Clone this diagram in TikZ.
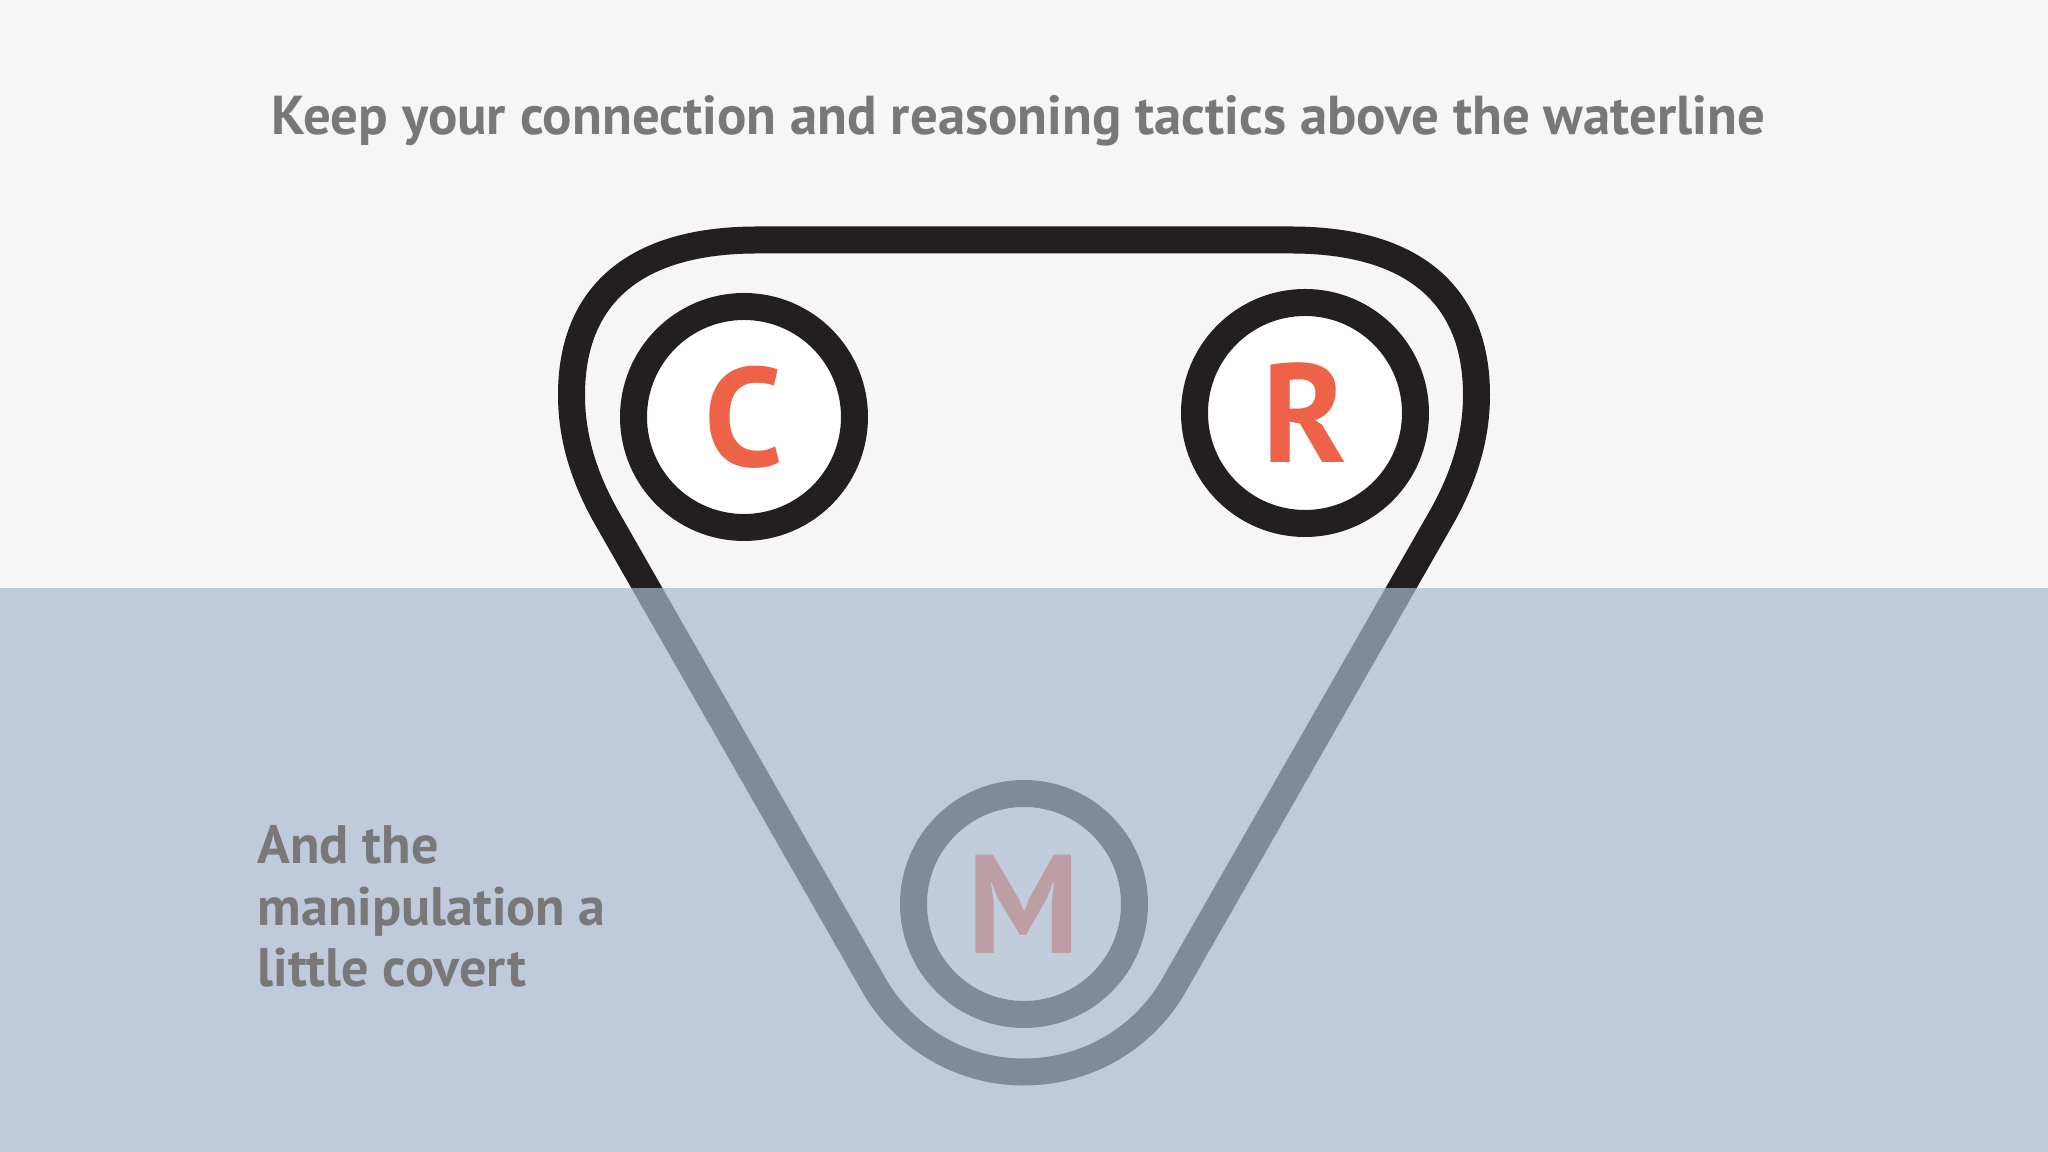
\documentclass[tikz,border=0pt]{standalone}
\usepackage{fontspec}
\setmainfont{PT Sans}
\usepackage{xcolor}
\usepackage{tikz}
\usetikzlibrary{calc}
\definecolor{ink}{HTML}{231F20}
\definecolor{letterred}{HTML}{EE6347}
\definecolor{sky}{HTML}{F6F6F7}
\definecolor{water}{RGB}{169,184,206}
\definecolor{textgray}{HTML}{787878}

\begin{document}
\begin{tikzpicture}[
  ring/.style={circle,draw=ink,line width=2.7mm,fill=white,minimum size=2.21cm,inner sep=0pt,text=letterred,font=\bfseries\fontsize{40}{40}\selectfont},
  belt/.style={draw=ink,line width=2.7mm,line join=round}]
  \fill[sky] (0,0) rectangle (20.48,11.52);
  \useasboundingbox (0,0) rectangle (20.48,11.52);
  \coordinate (bd) at (10.24,2.53);
  \coordinate (topl) at (7.57,9.12);
  \coordinate (topr) at (12.91,9.12);
  \coordinate (sidel) at (5.715,7.57);
  \coordinate (sider) at (14.765,7.57);
  \coordinate (legl) at (6.08,6.32);
  \coordinate (legr) at (14.40,6.32);
  \draw[belt] (topl) -- (topr) .. controls (14.12,9.12) and (14.765,8.58) .. (sider)
     .. controls (14.765,7.12) and (14.625,6.71) .. (legr)
     -- ($(bd)+(-30:1.73)$) arc[start angle=-30,end angle=-150,radius=1.73]
     -- (legl) .. controls (5.855,6.71) and (5.715,7.12) .. (sidel)
     .. controls (5.715,8.58) and (6.36,9.12) .. (topl) -- cycle;
  \node[ring] (connect) at (7.44,7.35) {C};
  \node[ring] (reason) at (13.05,7.39) {R};
  \node[ring] (manip) at (10.24,2.48) {M};
  \fill[water,opacity=0.7] (0,0) rectangle (20.48,5.64);
  \node[anchor=base,inner sep=0pt,text=textgray,font=\bfseries\fontsize{15.6}{18}\selectfont] (headline) at (10.185,10.17) {Keep your connection and reasoning tactics above the waterline};
  \node[anchor=north west,inner sep=0pt,align=left,text=textgray,font=\bfseries\fontsize{15.4}{17.4}\selectfont] (covert) at (2.57,3.27) {And the\\manipulation a\\little covert};
\end{tikzpicture}
\end{document}
